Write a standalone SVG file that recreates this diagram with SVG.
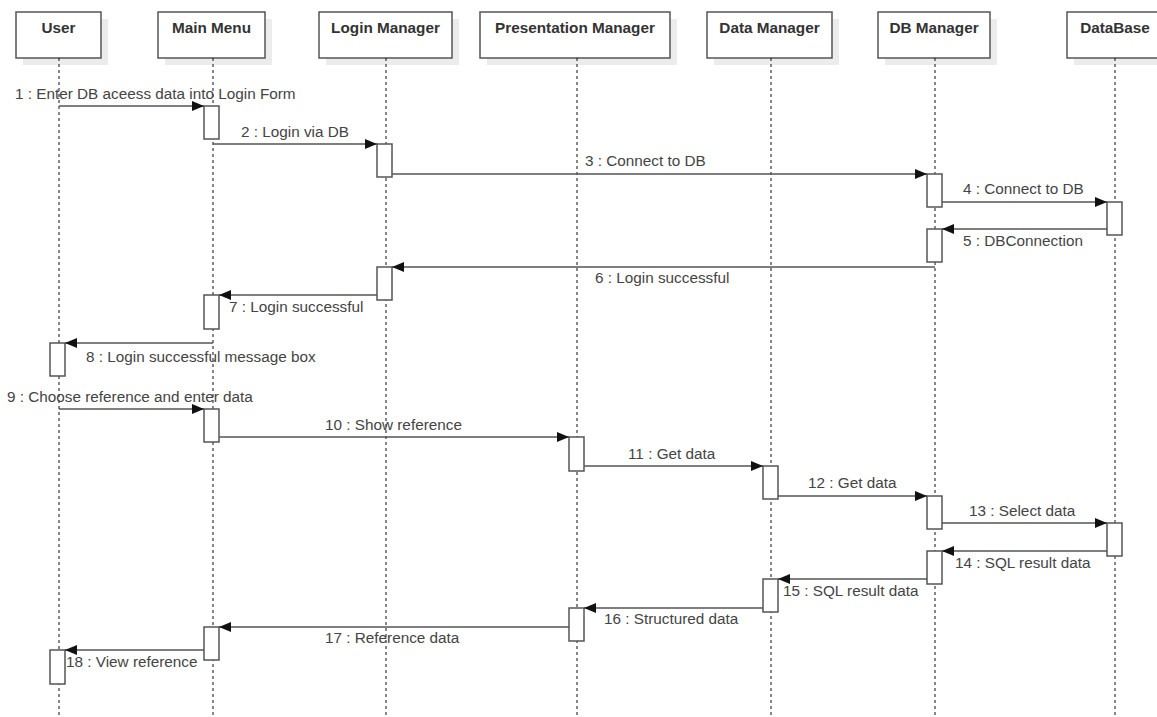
<svg xmlns="http://www.w3.org/2000/svg" width="1157" height="717" viewBox="0 0 1157 717">
<defs>
<style>
.shadow{fill:#ececec;stroke:none}
.head{fill:#fff;stroke:#555;stroke-width:1.5}
.htxt{font-family:"Liberation Sans",Arial,sans-serif;font-weight:bold;font-size:15.3px;fill:#333;text-anchor:middle}
.life{stroke:#111;stroke-width:1;stroke-dasharray:3 3;fill:none}
.act{fill:#fff;stroke:#555;stroke-width:1.5}
.msg{stroke:#555;stroke-width:1.5;fill:none;marker-end:url(#arr)}
.lbl{font-family:"Liberation Sans",Arial,sans-serif;font-size:15.3px;fill:#444}
</style>
<marker id="arr" markerUnits="userSpaceOnUse" markerWidth="13" markerHeight="12" refX="12" refY="5" orient="auto">
<path d="M0,0 L12,5 L0,10 z" fill="#111"/>
</marker>
</defs>
<rect width="1157" height="717" fill="#fff"/>

<g id="user">
<rect class="shadow" x="23" y="19" width="85" height="46"/>
<rect class="head" x="16" y="12" width="85" height="46"/>
<text class="htxt" x="58.5" y="33">User</text>
<line class="life" x1="59" y1="58" x2="59" y2="717"/>
<rect class="act" x="50" y="343" width="15" height="33"/>
<rect class="act" x="50" y="650" width="15" height="34"/>
</g>
<g id="main-menu">
<rect class="shadow" x="165" y="19" width="107" height="46"/>
<rect class="head" x="158" y="12" width="107" height="46"/>
<text class="htxt" x="211.5" y="33">Main Menu</text>
<line class="life" x1="213" y1="58" x2="213" y2="717"/>
<rect class="act" x="204" y="106" width="15" height="33"/>
<rect class="act" x="204" y="295" width="15" height="34"/>
<rect class="act" x="204" y="409" width="15" height="33"/>
<rect class="act" x="204" y="627" width="15" height="33"/>
</g>
<g id="login-manager">
<rect class="shadow" x="326" y="19" width="133" height="46"/>
<rect class="head" x="319" y="12" width="133" height="46"/>
<text class="htxt" x="385.5" y="33">Login Manager</text>
<line class="life" x1="386" y1="58" x2="386" y2="717"/>
<rect class="act" x="377" y="144" width="15" height="33"/>
<rect class="act" x="377" y="267" width="15" height="33"/>
</g>
<g id="presentation-manager">
<rect class="shadow" x="487" y="19" width="190" height="46"/>
<rect class="head" x="480" y="12" width="190" height="46"/>
<text class="htxt" x="575" y="33">Presentation Manager</text>
<line class="life" x1="577" y1="58" x2="577" y2="717"/>
<rect class="act" x="569" y="437" width="15" height="34"/>
<rect class="act" x="569" y="608" width="15" height="33"/>
</g>
<g id="data-manager">
<rect class="shadow" x="714" y="19" width="125" height="46"/>
<rect class="head" x="707" y="12" width="125" height="46"/>
<text class="htxt" x="769.5" y="33">Data Manager</text>
<line class="life" x1="771" y1="58" x2="771" y2="717"/>
<rect class="act" x="763" y="466" width="15" height="33"/>
<rect class="act" x="763" y="579" width="15" height="33"/>
</g>
<g id="db-manager">
<rect class="shadow" x="885" y="19" width="112" height="46"/>
<rect class="head" x="878" y="12" width="112" height="46"/>
<text class="htxt" x="934" y="33">DB Manager</text>
<line class="life" x1="935" y1="58" x2="935" y2="717"/>
<rect class="act" x="927" y="174" width="15" height="33"/>
<rect class="act" x="927" y="229" width="15" height="33"/>
<rect class="act" x="927" y="496" width="15" height="33"/>
<rect class="act" x="927" y="551" width="15" height="33"/>
</g>
<g id="database">
<rect class="shadow" x="1074" y="19" width="96" height="46"/>
<rect class="head" x="1067" y="12" width="96" height="46"/>
<text class="htxt" x="1115" y="33">DataBase</text>
<line class="life" x1="1115" y1="58" x2="1115" y2="717"/>
<rect class="act" x="1107" y="202" width="15" height="33"/>
<rect class="act" x="1107" y="523" width="15" height="33"/>
</g>

<g id="connectors">
<line class="msg" x1="59" y1="106" x2="204" y2="106"/>
<line class="msg" x1="213" y1="144" x2="377" y2="144"/>
<line class="msg" x1="392" y1="174" x2="927" y2="174"/>
<line class="msg" x1="942" y1="202" x2="1107" y2="202"/>
<line class="msg" x1="1107" y1="229" x2="942" y2="229"/>
<line class="msg" x1="935" y1="267" x2="392" y2="267"/>
<line class="msg" x1="377" y1="295" x2="219" y2="295"/>
<line class="msg" x1="213" y1="343" x2="65" y2="343"/>
<line class="msg" x1="59" y1="409" x2="204" y2="409"/>
<line class="msg" x1="219" y1="437" x2="569" y2="437"/>
<line class="msg" x1="584" y1="466" x2="763" y2="466"/>
<line class="msg" x1="778" y1="496" x2="927" y2="496"/>
<line class="msg" x1="942" y1="523" x2="1107" y2="523"/>
<line class="msg" x1="1107" y1="551" x2="942" y2="551"/>
<line class="msg" x1="927" y1="579" x2="778" y2="579"/>
<line class="msg" x1="763" y1="608" x2="584" y2="608"/>
<line class="msg" x1="569" y1="627" x2="219" y2="627"/>
<line class="msg" x1="204" y1="650" x2="65" y2="650"/>
<text class="lbl" x="15" y="99">1 : Enter DB aceess data into Login Form</text>
<text class="lbl" x="241" y="137">2 : Login via DB</text>
<text class="lbl" x="585" y="166">3 : Connect to DB</text>
<text class="lbl" x="963" y="194">4 : Connect to DB</text>
<text class="lbl" x="963" y="246">5 : DBConnection</text>
<text class="lbl" x="595" y="283">6 : Login successful</text>
<text class="lbl" x="229" y="312">7 : Login successful</text>
<text class="lbl" x="86" y="362">8 : Login successful message box</text>
<text class="lbl" x="7" y="402">9 : Choose reference and enter data</text>
<text class="lbl" x="325" y="430">10 : Show reference</text>
<text class="lbl" x="628" y="459">11 : Get data</text>
<text class="lbl" x="808" y="488">12 : Get data</text>
<text class="lbl" x="969" y="516">13 : Select data</text>
<text class="lbl" x="955" y="568">14 : SQL result data</text>
<text class="lbl" x="783" y="596">15 : SQL result data</text>
<text class="lbl" x="604" y="624">16 : Structured data</text>
<text class="lbl" x="325" y="643">17 : Reference data</text>
<text class="lbl" x="66" y="667">18 : View reference</text>
</g>
</svg>
